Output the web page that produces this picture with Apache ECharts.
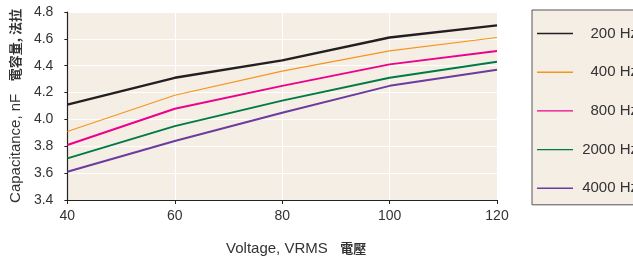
<!DOCTYPE html>
<html>
<head>
<meta charset="utf-8">
<script src="https://cdn.jsdelivr.net/npm/echarts@6/dist/echarts.min.js"></script>
<style>
  html, body { margin: 0; padding: 0; background: #fff; }
  #chart { width: 633px; height: 261px; }
</style>
</head>
<body>
<div id="chart"></div>
<script>
// voltage (VRMS)
var voltages = [40, 60, 80, 100, 120];
// capacitance nF per frequency
var hz200 = [4.11, 4.31, 4.44, 4.61, 4.70];
var hz400 = [3.91, 4.18, 4.36, 4.51, 4.61];
var hz800 = [3.81, 4.08, 4.25, 4.41, 4.51];
var hz2000 = [3.71, 3.95, 4.14, 4.31, 4.43];
var hz4000 = [3.61, 3.84, 4.05, 4.25, 4.37];
var seriesNames = ['200 Hz', '400 Hz', '800 Hz', '2000 Hz', '4000 Hz'];

var chart = echarts.init(document.getElementById('chart'));

function pairs(vals) {
  return voltages.map(function (v, i) { return [v, vals[i]]; });
}

function line(name, vals, color, w) {
  return {
    name: name,
    type: 'line',
    data: pairs(vals),
    symbol: 'none',
    lineStyle: { color: color, width: w },
    itemStyle: { color: color },
    silent: true
  };
}

var font = 'Liberation Sans, Arial, sans-serif';
var cjk = { fontSize: 13, fontWeight: 'bold', fontFamily: 'Noto Sans CJK TC', color: '#333' };

chart.setOption({
  animation: false,
  textStyle: { fontFamily: font },
  grid: {
    left: 67, right: 136, top: 12, bottom: 57,
    show: true, backgroundColor: '#f4eee5', borderWidth: 0
  },
  legend: {
    orient: 'vertical',
    left: 532, top: 10,
    padding: [16, 20, 9, 5],
    icon: 'rect',
    itemWidth: 36, itemHeight: 1.4,
    itemGap: 23.7,
    backgroundColor: '#f4eee5',
    borderColor: '#555',
    borderWidth: 1,
    data: seriesNames,
    formatter: '{a|{name}}',
    textStyle: {
      color: '#333',
      fontSize: 15,
      rich: { a: { width: 60, height: 14, lineHeight: 14, align: 'right', fontSize: 15, color: '#333' } }
    }
  },
  xAxis: {
    type: 'value',
    min: 40, max: 120, interval: 20,
    name: 'Voltage, VRMS   {c|電壓}',
    nameLocation: 'middle',
    nameGap: 41,
    nameTextStyle: { color: '#333', fontSize: 15, padding: [0, 0, 0, 28], rich: { c: cjk } },
    axisLine: { show: true, lineStyle: { color: '#222', width: 1.2 } },
    axisTick: { show: true, length: 4, lineStyle: { color: '#222' } },
    axisLabel: { color: '#333', fontSize: 14, margin: 9 },
    splitLine: { show: true, lineStyle: { color: '#fff', width: 1.2 } }
  },
  yAxis: {
    type: 'value',
    min: 3.4, max: 4.8, interval: 0.2,
    name: 'Capacitance, nF   {c|電容量, 法拉}',
    nameLocation: 'middle',
    nameGap: 42,
    nameTextStyle: { color: '#333', fontSize: 15, rich: { c: cjk } },
    axisLine: { show: true, lineStyle: { color: '#222', width: 1.2 } },
    axisTick: { show: true, length: 3, lineStyle: { color: '#222' } },
    axisLabel: {
      color: '#333', fontSize: 14, margin: 14,
      formatter: function (v) { return v.toFixed(1); }
    },
    splitLine: { show: true, lineStyle: { color: '#fff', width: 1.2 } }
  },
  series: [
    line('200 Hz', hz200, '#231f20', 2.4),
    line('400 Hz', hz400, '#f7941d', 1.2),
    line('800 Hz', hz800, '#ec008c', 2),
    line('2000 Hz', hz2000, '#007a45', 2),
    line('4000 Hz', hz4000, '#6b3b9e', 2)
  ]
});
</script>
</body>
</html>
